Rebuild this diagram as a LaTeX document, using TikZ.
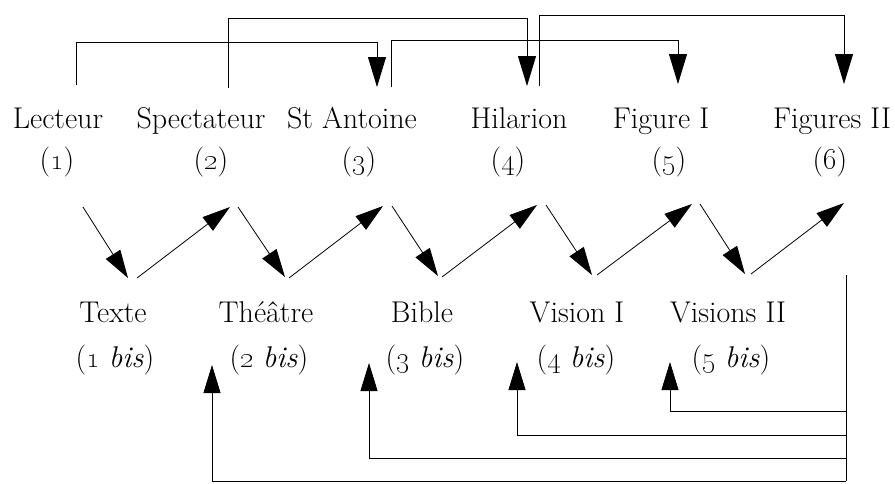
\documentclass[tikz,border=0pt]{standalone}
\usetikzlibrary{arrows.meta}
\begin{document}
\begin{tikzpicture}[x=1pt,y=-1pt,
  lbl/.style={anchor=base,font=\fontsize{30}{34}\selectfont,inner sep=0pt},
  link/.style={line width=0.8pt},
  arr/.style={link,-{Triangle[length=28pt,width=17pt]}},
  tarr/.style={link,-{Triangle[length=30pt,width=18pt]}}]
\useasboundingbox (0,0) rectangle (895,483);

% upper row: roles
\node[lbl] (lect) at (58,128)  {Lecteur};
\node[lbl] (spec) at (201,128) {Spectateur};
\node[lbl] (ant)  at (352,128) {St Antoine};
\node[lbl] (hil)  at (519,128) {Hilarion};
\node[lbl] (fig1) at (661,128) {Figure I};
\node[lbl] (fig2) at (832,128) {Figures II};

\node[lbl] (n1) at (57,169)  {(\oldstylenums{1})};
\node[lbl] (n2) at (211,169) {(\oldstylenums{2})};
\node[lbl] (n3) at (359,169) {(\oldstylenums{3})};
\node[lbl] (n4) at (508,169) {(\oldstylenums{4})};
\node[lbl] (n5) at (669,169) {(\oldstylenums{5})};
\node[lbl] (n6) at (830,169) {(\oldstylenums{6})};

% lower row: media
\node[lbl] (texte) at (113,322) {Texte};
\node[lbl] (theat) at (266,322) {Th\'e\^atre};
\node[lbl] (bible) at (422,322) {Bible};
\node[lbl] (vis1)  at (577,322) {Vision I};
\node[lbl] (vis2)  at (728,322) {Visions II};

\node[lbl] (b1) at (115,367) {(\oldstylenums{1} \textit{bis})};
\node[lbl] (b2) at (269,367) {(\oldstylenums{2} \textit{bis})};
\node[lbl] (b3) at (425,367) {(\oldstylenums{3} \textit{bis})};
\node[lbl] (b4) at (576,367) {(\oldstylenums{4} \textit{bis})};
\node[lbl] (b5) at (731,367) {(\oldstylenums{5} \textit{bis})};

% ports of the upper links
\coordinate (lectout) at (76,85);
\coordinate (specout) at (228,88);
\coordinate (antout)  at (391,87);
\coordinate (hilout)  at (539,86);
\coordinate (antin)   at (377,87);
\coordinate (hilin)   at (527,86);
\coordinate (fig1in)  at (678,84);
\coordinate (fig2in)  at (844,84);

\draw[tarr] (lectout) -- ++(0,-43) -| (antin);
\draw[tarr] (specout) -- ++(0,-70) -| (hilin);
\draw[tarr] (antout)  -- ++(0,-47) -| (fig1in);
\draw[tarr] (hilout)  -- ++(0,-71) -| (fig2in);

% zigzag between the two rows
\coordinate (u1)  at (83,207);  \coordinate (d1)  at (128,278);
\coordinate (d1o) at (137,278); \coordinate (u2)  at (230,207);
\coordinate (u2o) at (238,207); \coordinate (d2)  at (285,277);
\coordinate (d2o) at (289,278); \coordinate (u3)  at (383,206);
\coordinate (u3o) at (392,206); \coordinate (d3)  at (438,276);
\coordinate (d3o) at (442,277); \coordinate (u4)  at (537,205);
\coordinate (u4o) at (546,205); \coordinate (d4)  at (592,275);
\coordinate (d4o) at (597,275); \coordinate (u5)  at (692,204);
\coordinate (u5o) at (700,204); \coordinate (d5)  at (745,274);
\coordinate (d5o) at (751,274); \coordinate (u6)  at (844,203);

\draw[arr] (u1)  -- (d1);
\draw[arr] (d1o) -- (u2);
\draw[arr] (u2o) -- (d2);
\draw[arr] (d2o) -- (u3);
\draw[arr] (u3o) -- (d3);
\draw[arr] (d3o) -- (u4);
\draw[arr] (u4o) -- (d4);
\draw[arr] (d4o) -- (u5);
\draw[arr] (u5o) -- (d5);
\draw[arr] (d5o) -- (u6);

% return links below
\coordinate (src)  at (846,275);
\coordinate (bot)  at (846,481);
\coordinate (in5)  at (670,362);
\coordinate (in4)  at (517,362);
\coordinate (in3)  at (369,363);
\coordinate (in2)  at (212,365);

\draw[link] (src) -- (bot);
\draw[arr] (src |- 0,411) -| (in5);
\draw[arr] (src |- 0,435) -| (in4);
\draw[arr] (src |- 0,458) -| (in3);
\draw[arr] (bot) -| (in2);
\end{tikzpicture}
\end{document}
